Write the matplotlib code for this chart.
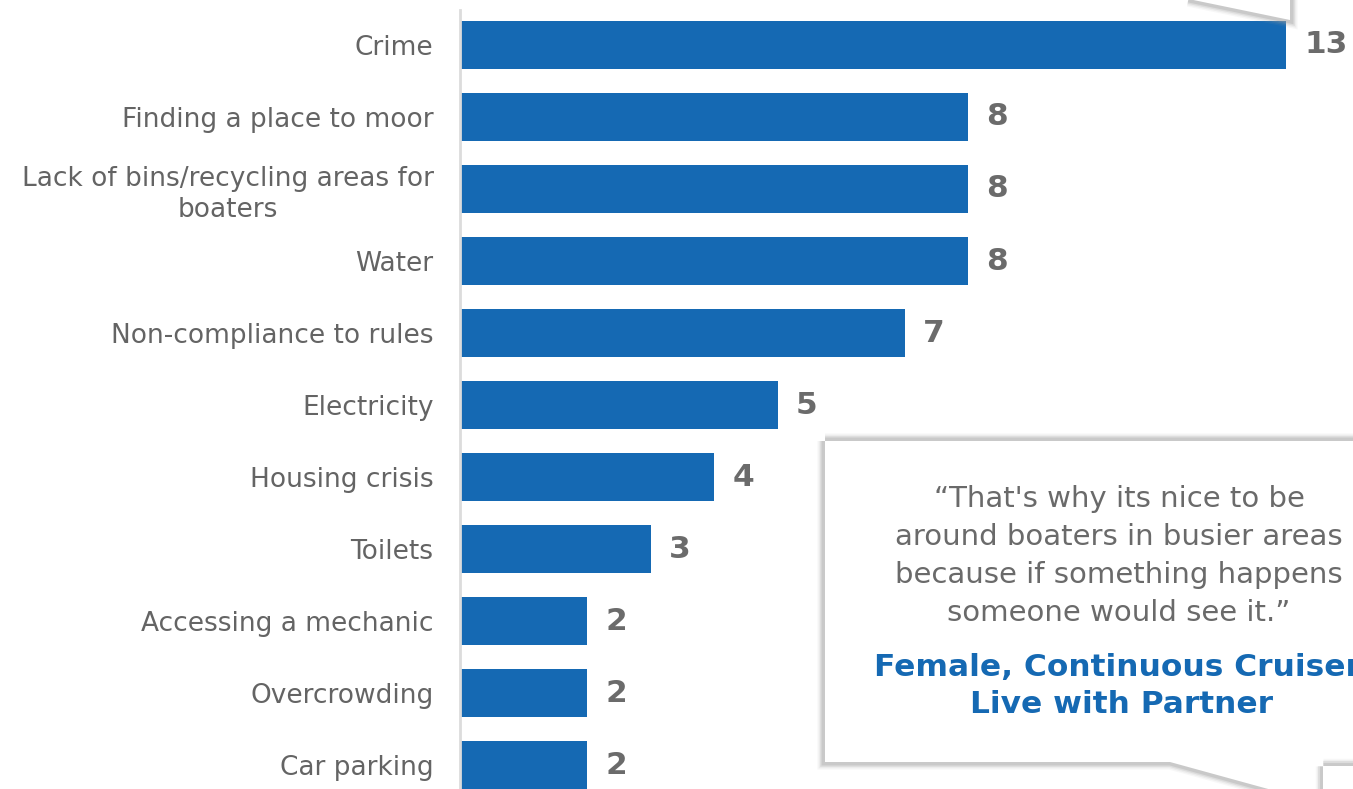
import matplotlib
matplotlib.use('Agg')
import matplotlib.pyplot as plt
from matplotlib.patches import Polygon

# issues mentioned by boaters (count of mentions)
issues = ['Crime', 'Finding a place to moor',
          'Lack of bins/recycling areas for\nboaters', 'Water',
          'Non-compliance to rules', 'Electricity', 'Housing crisis',
          'Toilets', 'Accessing a mechanic', 'Overcrowding', 'Car parking']
counts = [13, 8, 8, 8, 7, 5, 4, 3, 2, 2, 2]

quote = ("\u201cThat's why its nice to be\naround boaters in busier areas\n"
         "because if something happens\nsomeone would see it.\u201d")
speaker = 'Female, Continuous Cruiser,\nLive with Partner'

W, H = 1353, 789
blue = '#1569B3'
grey = '#646464'

fig = plt.figure(figsize=(W / 100, H / 100), dpi=100)
plt.rcParams['font.family'] = 'DejaVu Sans'

def px(x, y):
    # pixel position -> figure fraction
    return (x / W, 1 - y / H)

# bar area: zero at x=460, 63.5 px per mention
ax = fig.add_axes([460 / W, 0, (W - 460) / W, (H - 10) / H])
y = list(range(len(issues)))
ax.barh(y, counts, height=0.667, color=blue, zorder=2)
ax.set_xlim(0, (W - 460) / (826 / 13))
ax.set_ylim(10.333, -0.486)
ax.set_yticks(y)
ax.set_yticklabels(issues, fontsize=19, color=grey, multialignment='center')
for lab in ax.get_yticklabels():
    lab.set_linespacing(1.25)
ax.tick_params(axis='y', length=0, pad=19)
ax.set_xticks([])
for s in ['top', 'right', 'bottom']:
    ax.spines[s].set_visible(False)
ax.spines['left'].set_color('#dcdcdc')
ax.spines['left'].set_linewidth(2)

for yi, c in zip(y, counts):
    ax.annotate(str(c), (c, yi), xytext=(13, 0), textcoords='offset points',
                va='center', ha='left', fontsize=22.5, fontweight='bold',
                color='#6b6b6b', annotation_clip=False)

def callout(points, z):
    pts = [px(a, b) for a, b in points]
    # soft grey shadow round the shape, white fill on top
    for lw, a in [(11, 0.08), (9, 0.12), (7, 0.2), (5, 0.3)]:
        fig.patches.append(Polygon(pts, closed=True, transform=fig.transFigure,
                                   facecolor='none', edgecolor='#a0a0a0',
                                   linewidth=lw, alpha=a, zorder=z,
                                   joinstyle='miter'))
    fig.patches.append(Polygon(pts, closed=True, transform=fig.transFigure,
                               facecolor='white', edgecolor='none', zorder=z + 0.5))

callout([(1000, -40), (1290, 20), (1290, -40)], 5)
callout([(825, 441), (1420, 441), (1420, 810), (1300, 810), (1290, 795),
         (1170, 762), (825, 762)], 5)
callout([(1323, 766), (1420, 766), (1420, 830), (1323, 830)], 6)

fig.text(*px(1119, 556), quote, ha='center', va='center', fontsize=21,
         color='#6a6a6a', linespacing=1.46, zorder=10)
fig.text(*px(1121, 686), speaker, ha='center', va='center', fontsize=22.5,
         color=blue, fontweight='bold', linespacing=1.38, zorder=10)

fig.savefig('out.png', dpi=100)
